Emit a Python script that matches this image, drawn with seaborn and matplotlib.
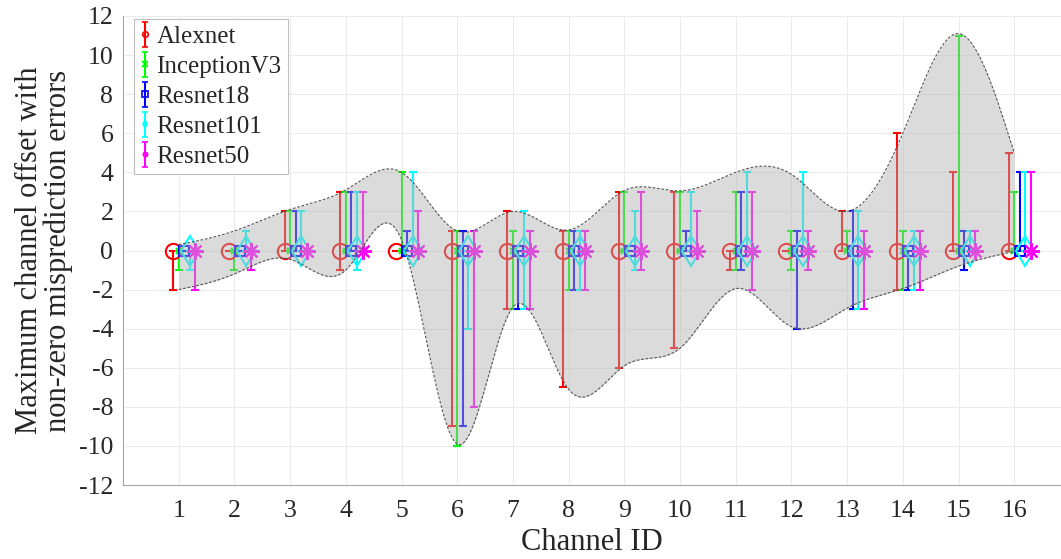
import matplotlib
matplotlib.use("Agg")
import matplotlib.pyplot as plt
import numpy as np
import pandas as pd
import seaborn as sns

# channel ids and per-model offset ranges (lower / upper bound around 0)
channels = np.arange(1, 17)

alexnet_lo = [-2, 0, 0, -1, 0, -9, -3, -7, -6, -5, -1, 0, 0, -2, 0, 0]
alexnet_hi = [0, 0, 2, 3, 0, 1, 2, 1, 3, 3, 0, 0, 2, 6, 4, 5]
inception_lo = [-1, -1, 0, 0, 0, -10, -3, -2, 0, 0, -1, -1, 0, -2, 0, 0]
inception_hi = [0, 0, 2, 3, 4, 1, 1, 1, 3, 3, 3, 1, 1, 1, 11, 3]
resnet18_lo = [0, 0, 0, 0, 0, -9, -3, -2, 0, 0, -1, -4, -3, -2, -1, 0]
resnet18_hi = [0, 0, 2, 3, 1, 1, 0, 1, 0, 1, 3, 1, 2, 0, 1, 4]
resnet101_lo = [-1, 0, 0, -1, 0, -4, -3, -2, -1, 0, 0, 0, -3, -2, 0, 0]
resnet101_hi = [0, 1, 2, 3, 4, 0, 2, 1, 2, 3, 4, 4, 2, 1, 1, 4]
resnet50_lo = [-2, -1, 0, 0, 0, -8, -3, -2, -1, 0, -2, -1, -3, -2, 0, 0]
resnet50_hi = [0, 0, 0, 3, 2, 1, 1, 1, 3, 2, 3, 1, 1, 1, 1, 4]

# envelope (shaded band) read at each channel
env_upper = [0.3, 1.0, 2.1, 3.1, 4.0, 1.0, 2.0, 1.05, 3.07, 3.05, 4.0, 3.9, 2.0, 6.0, 11.1, 5.0]
env_lower = [-2.0, -1.2, -0.45, -1.0, 0.55, -9.9, -2.9, -7.1, -5.9, -5.0, -1.95, -3.9, -2.95, -1.95, -0.8, -0.05]

models = ["Alexnet", "InceptionV3", "Resnet18", "Resnet101", "Resnet50"]
lows = [alexnet_lo, inception_lo, resnet18_lo, resnet101_lo, resnet50_lo]
highs = [alexnet_hi, inception_hi, resnet18_hi, resnet101_hi, resnet50_hi]
colors = ["#ff0000", "#00ff00", "#0000ff", "#00ffff", "#ff00ff"]
markers = ["o", "x", "s", "d", (8, 2, 0)]
msizes = [11, 5, 7, 15, 12]
offsets = [-0.1, 0.0, 0.1, 0.2, 0.3]


def natural_spline(x, y, xs):
    x = np.asarray(x, float)
    y = np.asarray(y, float)
    n = len(x)
    h = np.diff(x)
    A = np.zeros((n, n))
    b = np.zeros(n)
    A[0, 0] = A[-1, -1] = 1
    for i in range(1, n - 1):
        A[i, i - 1] = h[i - 1]
        A[i, i] = 2 * (h[i - 1] + h[i])
        A[i, i + 1] = h[i]
        b[i] = 3 * ((y[i + 1] - y[i]) / h[i] - (y[i] - y[i - 1]) / h[i - 1])
    c = np.linalg.solve(A, b)
    bb = (y[1:] - y[:-1]) / h - h * (2 * c[:-1] + c[1:]) / 3
    d = (c[1:] - c[:-1]) / (3 * h)
    idx = np.clip(np.searchsorted(x, xs) - 1, 0, n - 2)
    dx = xs - x[idx]
    return y[idx] + bb[idx] * dx + c[idx] * dx ** 2 + d[idx] * dx ** 3


sns.set_theme(style="whitegrid")
plt.rcParams["font.family"] = ["Liberation Serif", "DejaVu Serif"]
plt.rcParams["axes.unicode_minus"] = False

fig = plt.figure(figsize=(10.61, 5.59), dpi=100)
ax = fig.add_axes([123 / 1061, 74 / 559, (1061 - 123) / 1061, (485 - 16) / 559])

for name, lo, hi, col, mk, ms, off in zip(models, lows, highs, colors, markers, msizes, offsets):
    df = pd.DataFrame({"ch": channels, "lo": lo, "hi": hi})
    ax.errorbar(df["ch"] + off, np.zeros(len(df)), yerr=[-df["lo"], df["hi"]],
                fmt="none", ecolor=col, elinewidth=1.5, capsize=3, capthick=1.5, zorder=2)
    ax.plot(df["ch"] + off, np.zeros(len(df)), linestyle="none", marker=mk, ms=ms,
            mfc="none", mec=col, mew=1.5, zorder=3)
    # proxy outside the view, used only for the legend entry
    ax.errorbar([-5], [0], yerr=[[1], [1]], fmt="", marker=mk, linestyle="none", color=col,
                ms=4, mfc="none", mew=1.2, elinewidth=1.5, capsize=2, capthick=1.5, label=name)

xs = np.linspace(1, 16, 600)
up = natural_spline(channels, env_upper, xs)
dn = natural_spline(channels, env_lower, xs)
ax.fill_between(xs, dn, up, color="#b0b0b0", alpha=0.45, linewidth=0, zorder=4)
ax.plot(xs, up, color="#555555", lw=0.8, ls=(0, (2.5, 1.5)), zorder=5)
ax.plot(xs, dn, color="#555555", lw=0.8, ls=(0, (2.5, 1.5)), zorder=5)

ax.set_xlim(0, 16.84)
ax.set_ylim(-12, 12)
ax.set_xticks(channels)
ax.set_yticks(np.arange(-12, 13, 2))
ax.tick_params(direction="in", length=5, width=0.8, color="#a0a0a0", labelsize=18.5,
               labelcolor="#262626")
ax.tick_params(axis="y", pad=7)
ax.tick_params(axis="x", pad=11)
ax.grid(True, color="#ebebeb", linewidth=0.7)
ax.set_facecolor("white")
for s in ["top", "right"]:
    ax.spines[s].set_visible(False)
for s in ["left", "bottom"]:
    ax.spines[s].set_color("#a6a6a6")
    ax.spines[s].set_linewidth(0.8)

ax.set_xlabel("Channel ID", fontsize=22, color="#262626", labelpad=4)
ax.set_ylabel("Maximum channel offset with\nnon-zero misprediction errors", fontsize=22,
              color="#262626", labelpad=4, linespacing=1.0)

leg = ax.legend(loc="upper left", bbox_to_anchor=(11 / 938, 1 - 3 / 469), borderaxespad=0,
                fontsize=18, frameon=True, fancybox=False, handlelength=0.4,
                handletextpad=0.25, labelspacing=0.3, borderpad=0.25)
leg.get_frame().set_edgecolor("#bfbfbf")
leg.get_frame().set_linewidth(0.8)
leg.get_frame().set_alpha(1)

fig.savefig("out.png", dpi=100)
